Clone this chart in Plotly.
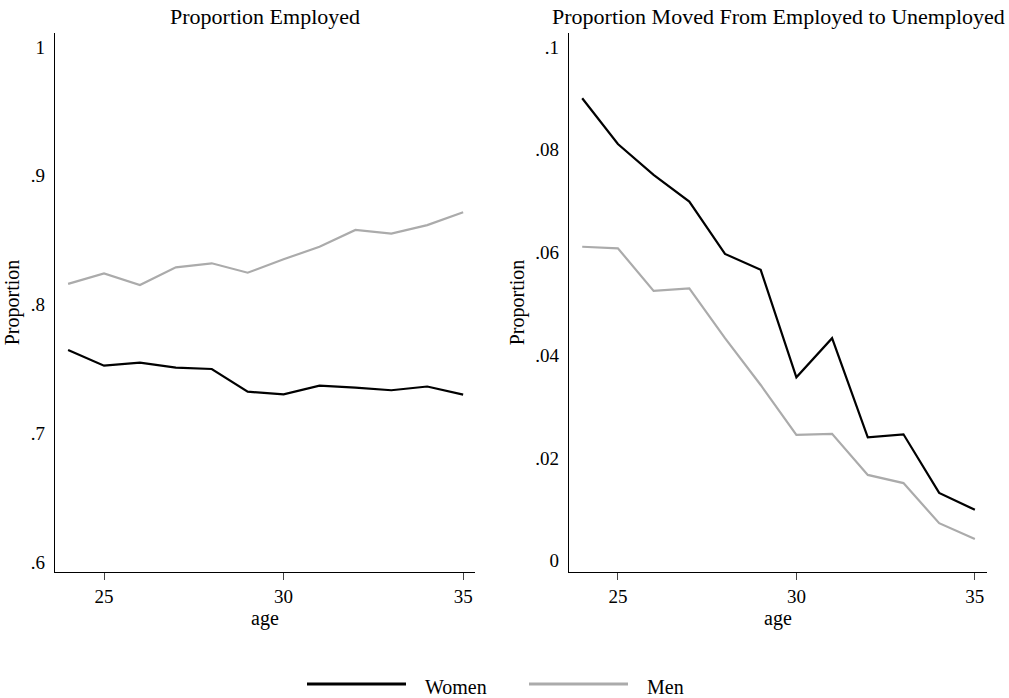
import plotly.graph_objects as go

# Ages covered by both panels
ages = [24, 25, 26, 27, 28, 29, 30, 31, 32, 33, 34, 35]

# Proportion employed, by sex
employed_women = [0.7647, 0.7525, 0.7548, 0.7509, 0.7499, 0.7323,
                  0.7302, 0.7369, 0.7354, 0.7334, 0.7363, 0.7300]
employed_men = [0.8160, 0.8242, 0.8151, 0.8289, 0.8320, 0.8247,
                0.8351, 0.8449, 0.8579, 0.8550, 0.8617, 0.8716]

# Proportion moving from employed to unemployed, by sex
e2u_women = [0.0900, 0.0811, 0.0751, 0.0699, 0.0597, 0.0566,
             0.0357, 0.0433, 0.0240, 0.0246, 0.0132, 0.0099]
e2u_men = [0.0611, 0.0608, 0.0525, 0.0530, 0.0433, 0.0342,
           0.0245, 0.0247, 0.0167, 0.0151, 0.0073, 0.0042]

left_ticks = [0.6, 0.7, 0.8, 0.9, 1.0]
left_ticktext = [".6", ".7", ".8", ".9", "1"]
right_ticks = [0, 0.02, 0.04, 0.06, 0.08, 0.1]
right_ticktext = ["0", ".02", ".04", ".06", ".08", ".1"]
x_ticks = [25, 30, 35]

series_names = ["Women", "Men"]
WOMEN_COLOR = "#000000"
MEN_COLOR = "#ababab"
FONT = "Liberation Serif"

W, H = 1009, 698

fig = go.Figure()

fig.add_trace(go.Scatter(x=ages, y=employed_women, mode="lines", name=series_names[0],
                         line=dict(color=WOMEN_COLOR, width=2.2), xaxis="x", yaxis="y",
                         showlegend=False))
fig.add_trace(go.Scatter(x=ages, y=employed_men, mode="lines", name=series_names[1],
                         line=dict(color=MEN_COLOR, width=2.2), xaxis="x", yaxis="y",
                         showlegend=False))
fig.add_trace(go.Scatter(x=ages, y=e2u_women, mode="lines", name=series_names[0],
                         line=dict(color=WOMEN_COLOR, width=2.2), xaxis="x2", yaxis="y2",
                         showlegend=False))
fig.add_trace(go.Scatter(x=ages, y=e2u_men, mode="lines", name=series_names[1],
                         line=dict(color=MEN_COLOR, width=2.2), xaxis="x2", yaxis="y2",
                         showlegend=False))

# Plot area positions in pixels
left_x0, left_x1 = 55, 475
right_x0, right_x1 = 569, 987
y_top, y_bot = 33, 572
ydom = [(H - y_bot) / H, (H - y_top) / H]

common_x = dict(
    showline=True, linecolor="#000000", linewidth=1.3, mirror=False,
    ticks="outside", ticklen=7, tickwidth=1, tickcolor="#444444",
    showgrid=False, zeroline=False, tickvals=x_ticks,
    tickfont=dict(family=FONT, size=19, color="#000000"),
    title=dict(text="age", font=dict(family=FONT, size=20, color="#000000"), standoff=0),
)
common_y = dict(
    showline=True, linecolor="#000000", linewidth=1.3, mirror=False,
    ticks="outside", ticklen=0, showgrid=False, zeroline=False,
    ticklabelstandoff=5,
    tickfont=dict(family=FONT, size=19, color="#000000"),
    title=dict(text="Proportion", font=dict(family=FONT, size=20, color="#000000"), standoff=5),
)

fig.update_layout(
    width=W, height=H,
    margin=dict(l=0, r=0, t=0, b=0),
    paper_bgcolor="white", plot_bgcolor="white",
    font=dict(family=FONT, color="#000000"),
    xaxis=dict(domain=[left_x0 / W, left_x1 / W], range=[23.635, 35.33], anchor="y", **common_x),
    yaxis=dict(domain=ydom, range=[0.5922, 1.0109], anchor="x",
               tickvals=left_ticks, ticktext=left_ticktext, **common_y),
    xaxis2=dict(domain=[right_x0 / W, right_x1 / W], range=[23.63, 35.34], anchor="y2", **common_x),
    yaxis2=dict(domain=ydom, range=[-0.0022, 0.1027], anchor="x2",
                tickvals=right_ticks, ticktext=right_ticktext, **common_y),
)

# Panel titles
fig.add_annotation(text="Proportion Employed", x=(left_x0 + left_x1) / 2 / W, y=1 - 17 / H,
                   xref="paper", yref="paper", showarrow=False, xanchor="center", yanchor="middle",
                   font=dict(family=FONT, size=22, color="#000000"))
fig.add_annotation(text="Proportion Moved From Employed to Unemployed",
                   x=(right_x0 + right_x1) / 2 / W, y=1 - 17 / H,
                   xref="paper", yref="paper", showarrow=False, xanchor="center", yanchor="middle",
                   font=dict(family=FONT, size=22, color="#000000"))

# Shared legend below the panels
legend_y = 1 - 684 / H
legend_items = [
    (series_names[0], WOMEN_COLOR, 307, 406, 423),
    (series_names[1], MEN_COLOR, 529, 628, 645),
]
for name, color, lx0, lx1, tx in legend_items:
    fig.add_shape(type="line", xref="paper", yref="paper",
                  x0=lx0 / W, x1=lx1 / W, y0=legend_y, y1=legend_y,
                  line=dict(color=color, width=2.8))
    fig.add_annotation(text=name, x=tx / W, y=legend_y - 3 / H, xref="paper", yref="paper",
                       showarrow=False, xanchor="left", yanchor="middle",
                       font=dict(family=FONT, size=20, color="#000000"))

fig.write_html("out.html")
